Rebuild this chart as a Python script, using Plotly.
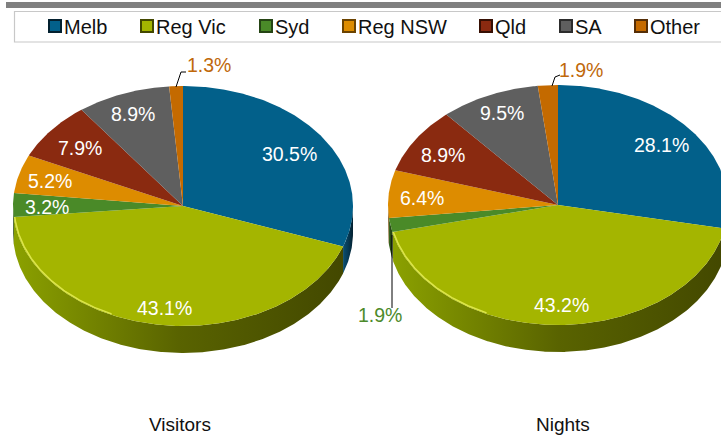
import numpy as np
import plotly.graph_objects as go

categories = ["Melb", "Reg Vic", "Syd", "Reg NSW", "Qld", "SA", "Other"]
visitors = [30.5, 43.1, 3.2, 5.2, 7.9, 8.9, 1.3]
nights = [28.1, 43.2, 1.9, 6.4, 8.9, 9.5, 1.9]
titles = ["Visitors", "Nights"]

top_colors = ["#02608a", "#a4b500", "#4a8a28", "#dd8c00", "#8a2a10", "#5f5f5f", "#c46a00"]
side_left = ["#0a4e70", "#8ba100", "#3f7022", "#b87200", "#5e1b05", "#4d4d4d", "#94500c"]
side_mid = ["#063a55", "#596300", "#254414", "#6c4300", "#360f03", "#2c2c2c", "#552e07"]
side_right = ["#03202f", "#434800", "#254414", "#6c4300", "#360f03", "#2c2c2c", "#552e07"]
label_colors = ["white", "white", "white", "white", "white", "white", "#c0680a"]

centers = [(183, 206), (558, 205)]
RX, RY, DEPTH = 170, 120, 27

label_xy = [
    [(289, 154), (164, 308), (47, 207), (50, 181), (80, 148), (133, 114), (209, 65)],
    [(661, 145), (561, 305), (380, 315), (422, 198), (443, 155), (502, 113), (581, 70)],
]
label_col_override = {(1, 2): "#4d8a2a"}
leaders = [
    [[(176, 87), (181, 72), (186, 72)]],
    [[(552, 86), (555, 77), (560, 75)], [(392, 235), (392, 308)]],
]
# left edge of each legend item's text, in pixels
legend_text_x = [64, 156, 275, 358, 495, 575, 650]

fig = go.Figure()


def arc(cx, cy, a0, a1, dy=0, rx=RX, ry=RY):
    t = np.radians(np.linspace(a0, a1, max(int(abs(a1 - a0)) * 2, 4)))
    return cx + rx * np.sin(t), cy - ry * np.cos(t) + dy


for p, values in enumerate([visitors, nights]):
    cx, cy = centers[p]
    total = sum(values)
    edges = np.cumsum([0] + values) / total * 360
    # side walls
    for i in range(len(values)):
        a0, a1 = max(edges[i], 90), min(edges[i + 1], 270)
        if a1 <= a0:
            continue
        x1, y1 = arc(cx, cy, a0, a1)
        x2, y2 = arc(cx, cy, a1, a0, DEPTH)
        fig.add_trace(go.Scatter(
            x=np.r_[x1, x2], y=np.r_[y1, y2], mode="lines", fill="toself",
            line=dict(width=0, color=side_left[i]), hoverinfo="skip", showlegend=False,
            fillgradient=dict(type="horizontal", colorscale=[
                [0, side_left[i]], [0.5, side_mid[i]], [1, side_right[i]]]),
        ))
    # top faces
    for i in range(len(values)):
        x1, y1 = arc(cx, cy, edges[i], edges[i + 1])
        fig.add_trace(go.Scatter(
            x=np.r_[cx, x1, cx], y=np.r_[cy, y1, cy], mode="lines", fill="toself",
            fillcolor=top_colors[i],
            line=dict(width=0, color=top_colors[i]), hoverinfo="skip", showlegend=False,
        ))
    # bevel highlight on the front-left edge of the largest slice
    a0, a1 = 205, min(edges[2], 268)
    x1, y1 = arc(cx, cy, a0, a1, 0, RX - 1, RY - 1)
    fig.add_trace(go.Scatter(x=x1, y=y1, mode="lines", hoverinfo="skip", showlegend=False,
                             line=dict(width=1.5, color="#dde64a")))
    for pts in leaders[p]:
        fig.add_trace(go.Scatter(x=[a for a, _ in pts], y=[b for _, b in pts], mode="lines",
                                 hoverinfo="skip", showlegend=False,
                                 line=dict(width=1, color="black")))
    # labels
    for i, v in enumerate(values):
        fig.add_annotation(x=label_xy[p][i][0], y=label_xy[p][i][1], text=f"{v:.1f}%", showarrow=False,
                           font=dict(size=19.5, color=label_col_override.get((p, i), label_colors[i])))
    fig.add_annotation(x=[180, 563][p], y=435, yanchor="bottom", borderpad=0, borderwidth=0,
                       text=titles[p], showarrow=False,
                       font=dict(size=19, color="#111111"))

# legend entries: one small legend per category so that each sits at its own place
legends = {}
for i, c in enumerate(categories):
    key = "legend" if i == 0 else f"legend{i + 1}"
    fig.add_trace(go.Scatter(x=[None], y=[None], mode="markers", name=c, legend=key,
                             marker=dict(symbol="square", size=11, color=top_colors[i],
                                         line=dict(width=1, color=side_right[i]))))
    legends[key] = dict(x=(legend_text_x[i] - 40) / 721, y=1 - 26 / 435, xanchor="left", yanchor="middle",
                        font=dict(size=20), bgcolor="rgba(0,0,0,0)", itemsizing="constant")

fig.update_layout(
    width=721, height=435, margin=dict(l=0, r=0, t=0, b=0),
    paper_bgcolor="white", plot_bgcolor="white",
    font=dict(family="Liberation Sans, Arial, sans-serif", color="#111111"),
    xaxis=dict(range=[0, 721], visible=False, fixedrange=True),
    yaxis=dict(range=[435, 0], visible=False, fixedrange=True),
    shapes=[
        dict(type="rect", xref="x", yref="y", x0=6, x1=721, y0=2, y1=8,
             fillcolor="#808080", line=dict(width=0)),
        dict(type="rect", xref="x", yref="y", x0=14.5, x1=725, y0=11.5, y1=42,
             fillcolor="rgba(0,0,0,0)", line=dict(width=1.2, color="#c8c8c8")),
    ],
    **legends,
)
fig.write_html(
    "out.html",
    config={"displayModeBar": False},
    post_script=(
        "document.body.style.margin='0';"
        "document.querySelectorAll('.legendsymbols').forEach(function(g){"
        "g.setAttribute('transform','translate(11,0)');});"
    ),
)
